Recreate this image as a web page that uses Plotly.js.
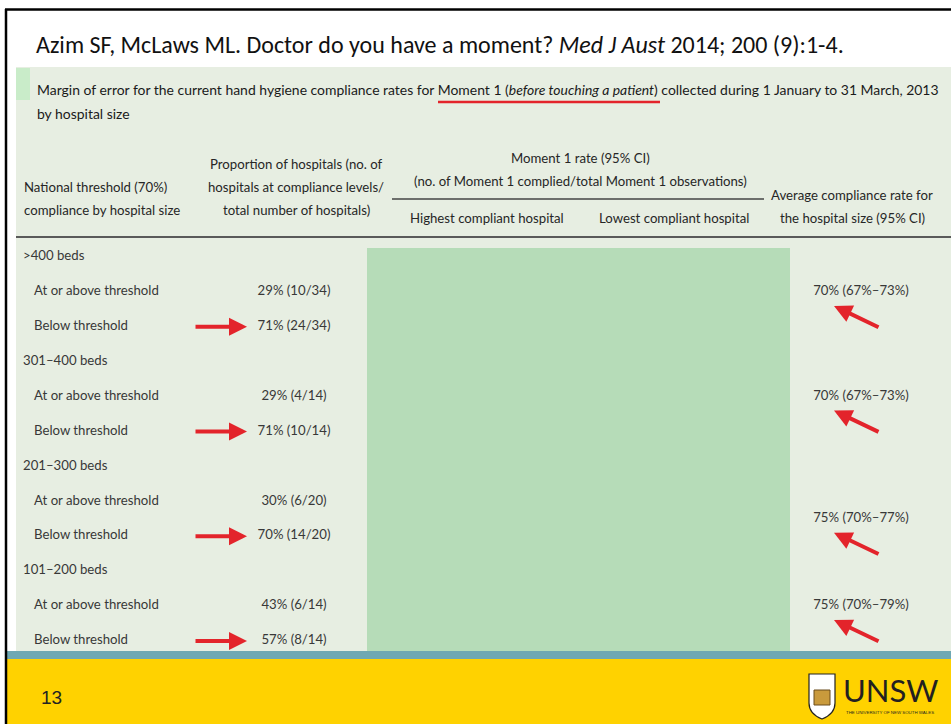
<!DOCTYPE html>
<html><head><meta charset="utf-8">
<script src="https://cdn.plot.ly/plotly-3.0.1.min.js"></script>
<style>html,body{margin:0;padding:0;background:#fff}</style>
</head><body><div id="chart" style="width:951px;height:724px"></div>
<script>
// ---- data ----
const groups = ['>400 beds', '301–400 beds', '201–300 beds', '101–200 beds'];
const levelLabels = ['At or above threshold', 'Below threshold'];
const abovePct = [29, 29, 30, 43];
const aboveN = [10, 4, 6, 6];
const belowPct = [71, 71, 70, 57];
const belowN = [24, 10, 14, 8];
const totals = [34, 14, 20, 14];
const avgRate = [70, 70, 75, 75];
const avgLow = [67, 67, 70, 70];
const avgHigh = [73, 73, 77, 79];
const slideNumber = '13';

// ---- layout helpers ----
const NARROW = 'Lato, "Liberation Sans Narrow", sans-serif';
const BODY_COLOR = '#383838';
const rowY = k => 257 + k * 34.9;
const avgOffset = [1, 1, 1.5, 1]; // row offset (within group) of the average value

const annotations = [];
const shapes = [];
function txt(x, y, text, size, opts) {
  opts = opts || {};
  annotations.push({
    x: x, y: y, xref: 'x', yref: 'y', text: text, showarrow: false,
    xanchor: opts.anchor || 'left', yanchor: 'middle', align: opts.align || 'left',
    font: {family: opts.family || NARROW, size: size, color: opts.color || BODY_COLOR}
  });
}
function rect(x0, y0, x1, y1, fill) {
  shapes.push({type: 'rect', xref: 'x', yref: 'y', x0, y0, x1, y1, fillcolor: fill, line: {width: 0}, layer: 'below'});
}
function line(x0, y0, x1, y1, color, width) {
  shapes.push({type: 'line', xref: 'x', yref: 'y', x0, y0, x1, y1, line: {color: color, width: width}});
}
function arrow(x0, y0, x1, y1) {
  annotations.push({x: x1, y: y1, ax: x0, ay: y0, xref: 'x', yref: 'y', axref: 'x', ayref: 'y',
    text: '', showarrow: true, arrowhead: 2, arrowsize: 0.9, arrowwidth: 4, arrowcolor: '#e3242b', standoff: 0});
}

// backgrounds
rect(16, 67, 951, 652, '#e7eee2');
rect(16, 68, 30, 100, '#c9ecc9');
rect(367, 248, 790, 651, '#b6dcb8');
rect(6, 651, 951, 659, '#6fa8b3');
rect(6, 659, 951, 724, '#ffd200');
// slide border
line(5, 9.5, 951, 9.5, '#000', 2.5);
line(6, 9, 6, 724, '#000', 2.5);

// title
txt(34, 44, 'Azim SF, McLaws ML. Doctor do you have a moment? <i>Med J Aust</i> 2014; 200 (9):1-4.', 24,
  {family: 'Carlito, Lato, sans-serif', color: '#111'});
txt(35, 89, 'Margin of error for the current hand hygiene compliance rates for Moment 1 (<i>before touching a patient</i>) collected during 1 January to 31 March, 2013', 13.95, {color: '#1a1a1a'});
txt(35, 113, 'by hospital size', 13.95, {color: '#1a1a1a'});
line(438, 102, 660, 102, '#e3242b', 2.5);

// headers
const H = 13.2, HC = '#262626';
txt(22, 187, 'National threshold (70%)', H, {color: HC});
txt(22, 210, 'compliance by hospital size', H, {color: HC});
txt(296, 164, 'Proportion of hospitals (no. of', H, {anchor: 'center', color: HC});
txt(296, 187, 'hospitals at compliance levels/', H, {anchor: 'center', color: HC});
txt(296, 210, 'total number of hospitals)', H, {anchor: 'center', color: HC});
txt(580, 158, 'Moment 1 rate (95% CI)', H, {anchor: 'center', color: HC});
txt(580, 181, '(no. of Moment 1 complied/total Moment 1 observations)', H, {anchor: 'center', color: HC});
line(392, 199, 764, 199, '#444', 1.5);
txt(487, 218, 'Highest compliant hospital', H, {anchor: 'center', color: HC});
txt(674, 218, 'Lowest compliant hospital', H, {anchor: 'center', color: HC});
txt(852, 195, 'Average compliance rate for', H, {anchor: 'center', color: HC});
txt(852, 218, 'the hospital size (95% CI)', H, {anchor: 'center', color: HC});
line(16, 237, 951, 237, '#5a5a5a', 2);

// body rows, built from the data
const B = 13.2;
const labelX = [], labelY = [], labelT = [];
const valX = [], valY = [], valT = [];
const avgX = [], avgY = [], avgT = [];
groups.forEach((g, i) => {
  labelX.push(23); labelY.push(rowY(3 * i)); labelT.push(g);
  labelX.push(34); labelY.push(rowY(3 * i + 1)); labelT.push(levelLabels[0]);
  labelX.push(34); labelY.push(rowY(3 * i + 2)); labelT.push(levelLabels[1]);
  valX.push(294); valY.push(rowY(3 * i + 1)); valT.push(abovePct[i] + '% (' + aboveN[i] + '/' + totals[i] + ')');
  valX.push(294); valY.push(rowY(3 * i + 2)); valT.push(belowPct[i] + '% (' + belowN[i] + '/' + totals[i] + ')');
  const ay = rowY(3 * i + avgOffset[i]);
  avgX.push(861); avgY.push(ay); avgT.push(avgRate[i] + '% (' + avgLow[i] + '%–' + avgHigh[i] + '%)');
  arrow(194, rowY(3 * i + 2), 247, rowY(3 * i + 2));
  arrow(880, ay + 36, 834, ay + 14);
});

// footer
txt(39, 697, slideNumber, 19, {family: 'Liberation Sans, Arial, sans-serif', color: '#222'});
// UNSW logo (approximate)
shapes.push({type: 'path', xref: 'x', yref: 'y', path: 'M809,674 L835,674 L835,703 Q835,714 822,719 Q809,714 809,703 Z',
  fillcolor: '#ffffff', line: {color: '#222', width: 1.2}});
rect(819, 675, 825, 717, '#d8262e');
rect(810, 683, 834, 688, '#d8262e');
shapes.push({type: 'rect', xref: 'x', yref: 'y', x0: 814, y0: 690, x1: 830, y1: 705, fillcolor: '#c99a3c', line: {color: '#6b4c1d', width: 1}});
rect(811, 676, 817, 682, '#7a7a7a');
rect(827, 676, 833, 682, '#7a7a7a');
txt(841, 690, 'UNSW', 31, {family: 'Lato, sans-serif', color: '#231f20'});
txt(844, 712, 'THE UNIVERSITY OF NEW SOUTH WALES', 4.4, {family: 'Liberation Sans, sans-serif', color: '#231f20'});

const traces = [
  {x: labelX, y: labelY, text: labelT, mode: 'text', type: 'scatter', textposition: 'middle right',
   textfont: {family: NARROW, size: B, color: BODY_COLOR}, hoverinfo: 'skip', showlegend: false},
  {x: valX, y: valY, text: valT, mode: 'text', type: 'scatter', textposition: 'middle center',
   textfont: {family: NARROW, size: B, color: BODY_COLOR}, hoverinfo: 'skip', showlegend: false},
  {x: avgX, y: avgY, text: avgT, mode: 'text', type: 'scatter', textposition: 'middle center',
   textfont: {family: NARROW, size: B, color: BODY_COLOR}, hoverinfo: 'skip', showlegend: false}
];

const layout = {
  width: 951, height: 724, margin: {l: 0, r: 0, t: 0, b: 0},
  paper_bgcolor: '#ffffff', plot_bgcolor: 'rgba(0,0,0,0)',
  xaxis: {range: [0, 951], visible: false, fixedrange: true},
  yaxis: {range: [724, 0], visible: false, fixedrange: true},
  shapes: shapes, annotations: annotations, showlegend: false
};
Plotly.newPlot('chart', traces, layout, {staticPlot: true, displayModeBar: false});
</script></body></html>
